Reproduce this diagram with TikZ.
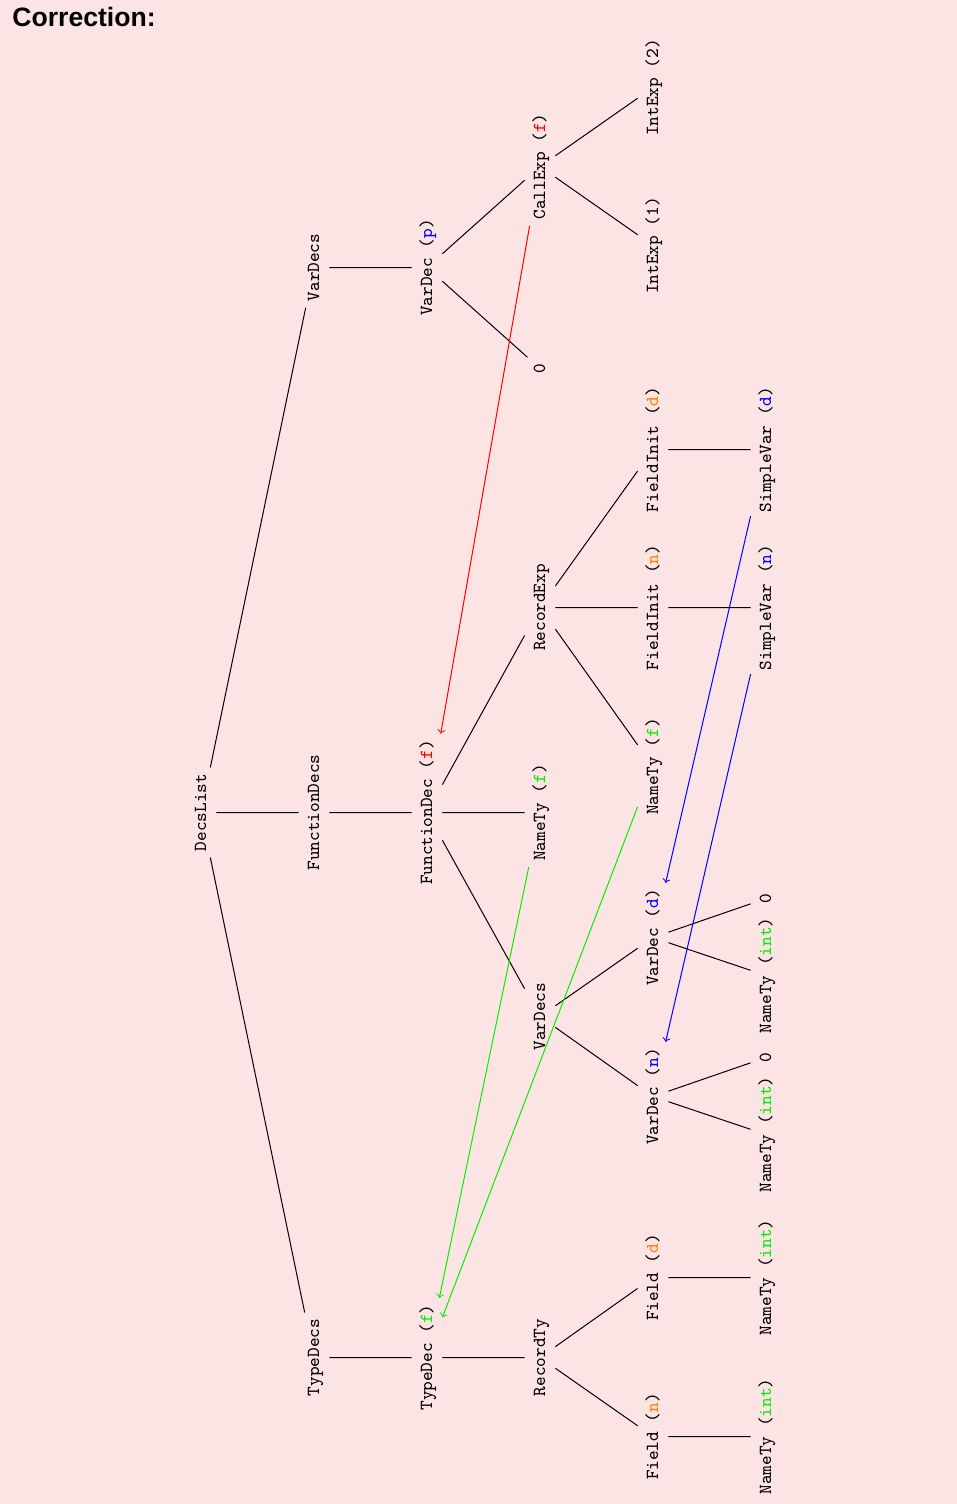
\documentclass[tikz,border=0pt]{standalone}
\usepackage{fontspec}
\newfontfamily\titlefont{Liberation Sans}
\definecolor{bgpink}{RGB}{253,228,228}
\definecolor{varblue}{RGB}{0,0,255}
\definecolor{fieldorange}{RGB}{255,128,0}
\definecolor{typegreen}{RGB}{0,240,0}
\definecolor{funred}{RGB}{255,0,0}
\begin{document}
\begin{tikzpicture}[x=0.5pt,y=-0.5pt,
  ast/.style={rotate=90, anchor=base, font=\fontsize{9.2}{11}\ttfamily,
    inner sep=3pt, text height=7pt, text depth=2pt},
  treeedge/.style={draw=black, line width=0.5pt},
  binding/.style={->, line width=0.5pt},
]
% canvas
\useasboundingbox (0,0) rectangle (957,1504);
\fill[bgpink] (0,0) rectangle (957,1504);
\node[anchor=base west, inner sep=0pt,
  font={\titlefont\fontsize{13.3}{16}\selectfont\bfseries}] (title) at (12,27) {Correction:};

% the tree sits on pixel rows so straight edges stay crisp
\begin{scope}[yshift=-0.25pt]
% level 0-2
\node[ast] (decslist) at (206,812) {DecsList};
\node[ast] (vardecs1) at (319,267) {VarDecs};
\node[ast] (fundecs) at (319,812) {FunctionDecs};
\node[ast] (typedecs) at (319,1357) {TypeDecs};
\node[ast] (vardecp) at (432,267) {VarDec (\textcolor{varblue}{p})};
\node[ast] (fundec) at (432,812) {FunctionDec (\textcolor{funred}{f})};
\node[ast] (typedec) at (432,1357) {TypeDec (\textcolor{typegreen}{f})};
% level 3
\node[ast] (callexp) at (545,166) {CallExp (\textcolor{funred}{f})};
\node[ast] (zeroinit) at (545,368) {0};
\node[ast] (recexp) at (545,607) {RecordExp};
\node[ast] (resty) at (545,812) {NameTy (\textcolor{typegreen}{f})};
\node[ast] (vardecs2) at (545,1016) {VarDecs};
\node[ast] (recty) at (545,1357) {RecordTy};
% level 4
\node[ast] (int2) at (658,87) {IntExp (2)};
\node[ast] (int1) at (658,245) {IntExp (1)};
\node[ast] (finitd) at (658,449) {FieldInit (\textcolor{fieldorange}{d})};
\node[ast] (finitn) at (658,607) {FieldInit (\textcolor{fieldorange}{n})};
\node[ast] (recname) at (658,766) {NameTy (\textcolor{typegreen}{f})};
\node[ast] (vardecd) at (658,937) {VarDec (\textcolor{varblue}{d})};
\node[ast] (vardecn) at (658,1096) {VarDec (\textcolor{varblue}{n})};
\node[ast] (fieldd) at (658,1277) {Field (\textcolor{fieldorange}{d})};
\node[ast] (fieldn) at (658,1436) {Field (\textcolor{fieldorange}{n})};
% level 5
\node[ast] (svard) at (771,449) {SimpleVar (\textcolor{varblue}{d})};
\node[ast] (svarn) at (771,607) {SimpleVar (\textcolor{varblue}{n})};
\node[ast] (zerod) at (771,898) {0};
\node[ast] (tyd) at (771,975) {NameTy (\textcolor{typegreen}{int})};
\node[ast] (zeron) at (771,1057) {0};
\node[ast] (tyn) at (771,1134) {NameTy (\textcolor{typegreen}{int})};
\node[ast] (ftyd) at (771,1277) {NameTy (\textcolor{typegreen}{int})};
\node[ast] (ftyn) at (771,1436) {NameTy (\textcolor{typegreen}{int})};

% tree edges
\path[treeedge]
  (decslist) -- (vardecs1)
  (decslist) -- (fundecs)
  (decslist) -- (typedecs)
  (vardecs1) -- (vardecp)
  (vardecp) -- (callexp)
  (vardecp) -- (zeroinit)
  (callexp) -- (int2)
  (callexp) -- (int1)
  (fundecs) -- (fundec)
  (fundec) -- (recexp)
  (fundec) -- (resty)
  (fundec) -- (vardecs2)
  (recexp) -- (finitd)
  (recexp) -- (finitn)
  (recexp) -- (recname)
  (finitd) -- (svard)
  (finitn) -- (svarn)
  (vardecs2) -- (vardecd)
  (vardecs2) -- (vardecn)
  (vardecd) -- (zerod)
  (vardecd) -- (tyd)
  (vardecn) -- (zeron)
  (vardecn) -- (tyn)
  (typedecs) -- (typedec)
  (typedec) -- (recty)
  (recty) -- (fieldd)
  (recty) -- (fieldn)
  (fieldd) -- (ftyd)
  (fieldn) -- (ftyn);

% name bindings
\draw[binding, funred] (callexp) -- (fundec);
\draw[binding, typegreen] (resty) -- (typedec);
\draw[binding, typegreen] (recname) -- (typedec);
\draw[binding, varblue] (svard) -- (vardecd);
\draw[binding, varblue] (svarn) -- (vardecn);
\end{scope}
\end{tikzpicture}
\end{document}
